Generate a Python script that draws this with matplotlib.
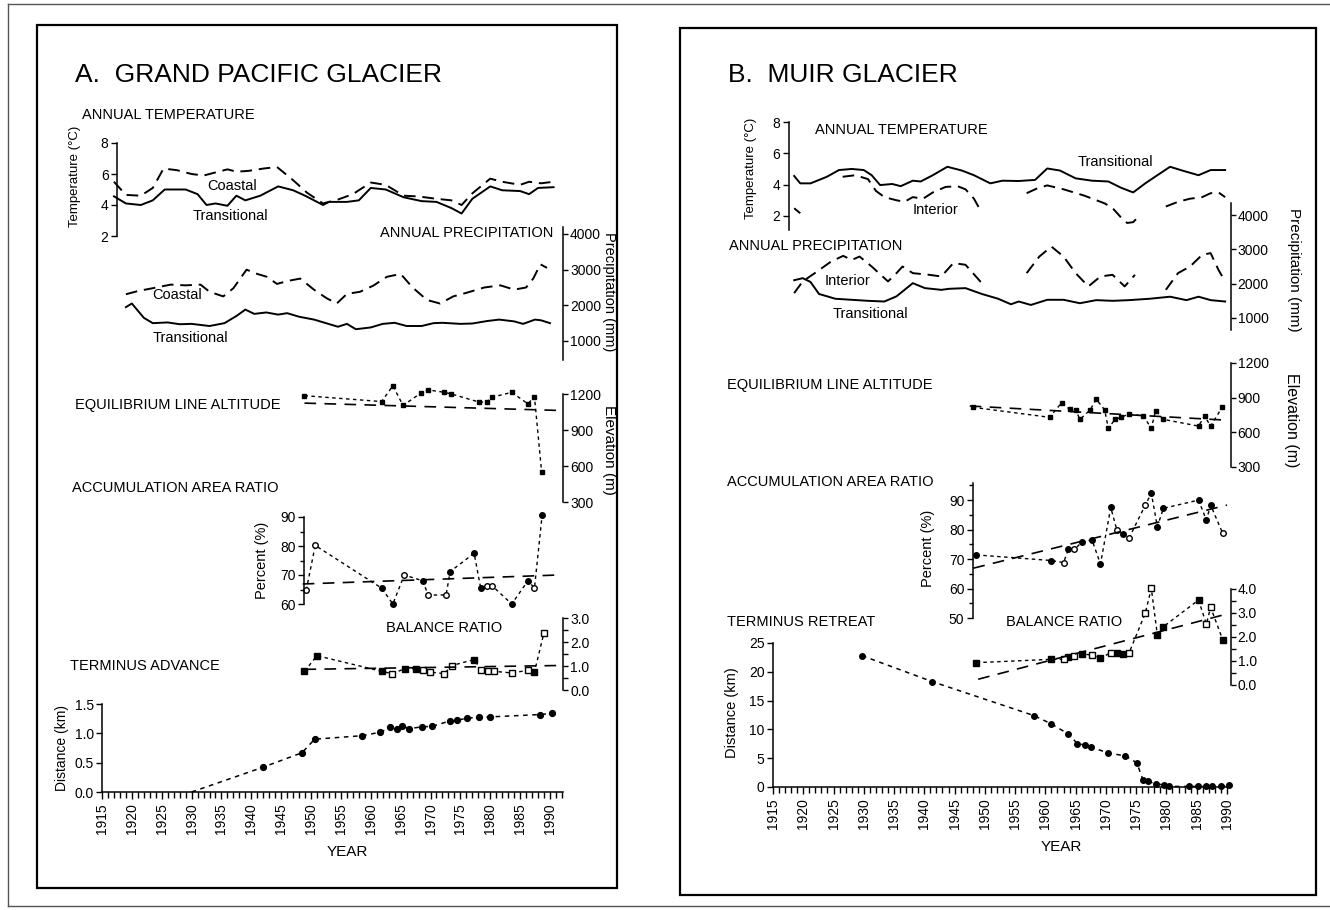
import matplotlib
matplotlib.use("Agg")
import numpy as np
import matplotlib.pyplot as plt
from matplotlib.ticker import MultipleLocator, FormatStrFormatter
from matplotlib.lines import Line2D
from matplotlib.patches import Rectangle

plt.rcParams['font.family'] = ['Liberation Sans', 'DejaVu Sans']

# ---------------- data: A. Grand Pacific Glacier ----------------
a_tt_yr = [1917, 1919, 1921.5, 1923.5, 1925.5, 1929, 1931, 1932.5, 1934, 1936, 1937.5, 1939,
           1941.5, 1944.5, 1947, 1949, 1952, 1953, 1956, 1958, 1960, 1962.5, 1965.5, 1968.5,
           1971, 1973.5, 1975.2, 1977, 1980, 1982, 1985, 1986.5, 1988, 1990.6]
a_tt = [4.56, 4.1, 4.0, 4.3, 5.0, 5.0, 4.7, 4.0, 4.1, 3.95, 4.6, 4.3, 4.6, 5.2, 4.95, 4.6,
        4.0, 4.2, 4.2, 4.3, 5.1, 5.0, 4.5, 4.25, 4.2, 3.8, 3.45, 4.4, 5.2, 4.95, 4.9, 4.7, 5.1, 5.15]
a_tc_yr = [1917, 1919, 1921.5, 1923.5, 1925.3, 1927.5, 1930, 1932, 1934, 1936, 1937.5, 1939.5,
           1942, 1944.3, 1947, 1949.3, 1952, 1954.5, 1957, 1960, 1962.5, 1965.5, 1968, 1971,
           1973.5, 1975.2, 1977, 1980, 1982, 1985, 1986.5, 1988.5, 1990.6]
a_tc = [5.5, 4.65, 4.6, 5.1, 6.35, 6.25, 6.0, 5.9, 6.1, 6.3, 6.15, 6.2, 6.35, 6.45, 5.6, 4.8,
        4.1, 4.35, 4.7, 5.45, 5.3, 4.6, 4.55, 4.4, 4.3, 4.0, 4.75, 5.7, 5.5, 5.3, 5.5, 5.4, 5.5]
a_pt_yr = [1919, 1920, 1922, 1923.5, 1926, 1928, 1930, 1933, 1935.5, 1937.5, 1939, 1940.5,
           1942.5, 1944.5, 1946, 1948, 1950.5, 1952.5, 1954.5, 1956, 1957.5, 1960, 1962, 1964,
           1966, 1968.5, 1970.5, 1972, 1975, 1977, 1979.5, 1981.5, 1984, 1985.5, 1987.5, 1988.5, 1990]
a_pt = [1950, 2050, 1650, 1500, 1520, 1470, 1480, 1420, 1500, 1700, 1880, 1760, 1800, 1740,
        1780, 1680, 1600, 1500, 1400, 1480, 1330, 1380, 1480, 1510, 1420, 1420, 1500, 1510,
        1480, 1490, 1560, 1600, 1550, 1480, 1600, 1580, 1500]
a_pc_yr = [1919, 1921, 1923.5, 1926.5, 1929, 1931.5, 1933, 1935.3, 1937, 1939.2, 1941, 1942.6,
           1944.3, 1946, 1948.2, 1950.4, 1952.6, 1954.3, 1956, 1958.2, 1960.4, 1962.7, 1965,
           1967, 1969.4, 1971.6, 1973.8, 1976, 1979, 1981.7, 1984, 1986, 1987.2, 1988.4, 1989.5]
a_pc = [2310, 2400, 2480, 2580, 2560, 2580, 2380, 2250, 2480, 3000, 2880, 2800, 2600, 2680,
        2750, 2450, 2200, 2050, 2320, 2380, 2550, 2800, 2880, 2500, 2150, 2050, 2250, 2350,
        2500, 2560, 2440, 2500, 2750, 3150, 3050]
a_ela_yr = [1948.9, 1961.8, 1963.7, 1965.4, 1968.4, 1969.5, 1972.3, 1973.5, 1978.2, 1979.4,
            1980.3, 1983.6, 1986.3, 1987.4, 1988.6]
a_ela = [1186, 1137, 1268, 1105, 1208, 1235, 1214, 1200, 1132, 1132, 1173, 1214, 1118, 1178, 551]
a_ela_trend_yr = [1948.9, 1992.2]
a_ela_trend = [1124, 1062]
a_aar_yr = [1949.2, 1950.7, 1961.8, 1963.7, 1965.6, 1968.7, 1969.6, 1972.6, 1973.3, 1977.3,
            1978.4, 1979.4, 1980.3, 1983.6, 1986.3, 1987.4, 1988.7]
a_aar = [64.8, 80.2, 65.5, 60.0, 70.0, 68.0, 63.1, 63.1, 71.2, 77.5, 65.5, 66.3, 66.3, 60.0,
         68.0, 65.5, 90.8]
a_aar_open = [1, 1, 0, 0, 1, 0, 1, 1, 0, 0, 0, 1, 1, 0, 0, 1, 0]
a_aar_trend_yr = [1948.6, 1991.4]
a_aar_trend = [66.9, 70.0]
a_br_yr = [1948.9, 1951.0, 1961.8, 1963.6, 1965.7, 1967.5, 1968.7, 1969.9, 1972.3, 1973.6,
           1977.3, 1978.5, 1979.7, 1980.6, 1983.6, 1986.3, 1987.4, 1989.0]
a_br = [0.78, 1.43, 0.78, 0.68, 0.89, 0.89, 0.82, 0.75, 0.68, 1.02, 1.27, 0.82, 0.78, 0.78,
        0.71, 0.82, 0.75, 2.39]
a_br_open = [0, 0, 0, 1, 0, 0, 1, 1, 1, 1, 0, 1, 1, 1, 1, 1, 0, 1]
a_br_trend_yr = [1948.9, 1991.4]
a_br_trend = [0.86, 1.02]
a_dist_yr = [1930, 1941.9, 1948.5, 1950.6, 1958.6, 1961.6, 1963.3, 1964.4, 1965.3, 1966.4,
             1968.5, 1970.3, 1973.2, 1974.4, 1976.1, 1978.1, 1980, 1988.3, 1990.3]
a_dist = [0.0, 0.42, 0.67, 0.90, 0.96, 1.02, 1.10, 1.07, 1.12, 1.08, 1.11, 1.12, 1.21, 1.22,
          1.26, 1.27, 1.28, 1.32, 1.34]

# ---------------- data: B. Muir Glacier ----------------
b_tt_yr = [1918.5, 1919.5, 1921.2, 1923.9, 1925.9, 1928.0, 1930.0, 1931.3, 1932.7, 1934.7,
           1936.1, 1938.1, 1939.4, 1941.4, 1943.8, 1946.2, 1948.2, 1950.9, 1952.9, 1955.6,
           1958.3, 1960.3, 1962.4, 1965.0, 1967.7, 1970.4, 1972.5, 1974.5, 1976.5, 1978.5,
           1980.6, 1982.6, 1985.3, 1987.3, 1989.7]
b_tt = [4.55, 4.08, 4.08, 4.5, 4.93, 5.0, 4.93, 4.6, 3.97, 4.04, 3.9, 4.25, 4.2, 4.6, 5.14,
        4.9, 4.6, 4.08, 4.25, 4.23, 4.3, 5.03, 4.9, 4.4, 4.25, 4.2, 3.8, 3.5, 4.08, 4.6, 5.14,
        4.9, 4.6, 4.93, 4.93]
# interior record has gaps (None)
b_ti_yr = [1918.5, 1919.5, None,
           1926.5, 1928.6, 1930.7, 1932.0, 1933.4, 1935.4, 1936.7, 1938.1, 1939.8, 1941.4,
           1943.5, 1945.5, 1946.8, 1948.2, 1949.5, None,
           1956.9, 1958.6, 1960.3, 1963.0, 1966.4, 1969.8, 1971.1, 1972.5, 1973.5, 1974.5,
           1975.5, None,
           1979.9, 1981.9, 1983.9, 1985.9, 1987.3, 1988.6, 1989.7]
b_ti = [2.49, 2.17, None,
        4.5, 4.6, 4.35, 3.6, 3.2, 3.0, 2.9, 3.2, 3.1, 3.5, 3.85, 3.9, 3.7, 3.1, 2.2, None,
        3.45, 3.75, 3.95, 3.7, 3.3, 2.8, 2.5, 1.9, 1.55, 1.6, 2.0, None,
        2.6, 2.9, 3.1, 3.2, 3.45, 3.5, 3.2]
b_pt_yr = [1918.5, 1919.9, 1921.2, 1922.6, 1925.3, 1928.0, 1930.7, 1933.4, 1935.4, 1938.1,
           1940.1, 1942.8, 1944.1, 1946.8, 1949.5, 1952.2, 1954.3, 1955.6, 1957.6, 1960.3,
           1963.0, 1965.7, 1968.4, 1971.1, 1973.8, 1977.2, 1980.6, 1983.3, 1985.3, 1987.3, 1989.7]
b_pt = [2100, 2160, 2050, 1700, 1560, 1530, 1500, 1480, 1630, 2015, 1870, 1820, 1850, 1870,
        1700, 1560, 1400, 1480, 1380, 1530, 1530, 1430, 1520, 1500, 1520, 1560, 1620, 1520,
        1620, 1520, 1480]
b_pi_yr = [1918.5, 1919.9, 1921.9, 1924.6, 1926.6, 1928.0, 1929.3, 1931.3, 1934.0, 1935.4,
           1936.4, 1938.1, 1940.8, 1942.8, 1944.8, 1946.8, 1949.5, None,
           1956.9, 1959.0, 1961.0, 1963.0, 1965.0, 1967.1, 1969.1, 1971.1, 1973.1, 1974.8, None,
           1979.9, 1981.9, 1983.9, 1985.9, 1987.3, 1988.6, 1989.7]
b_pi = [1725, 2065, 2306, 2645, 2810, 2690, 2790, 2500, 2065, 2306, 2500, 2306, 2258, 2210,
        2600, 2550, 2015, None,
        2306, 2790, 3080, 2790, 2306, 1920, 2210, 2258, 1920, 2258, None,
        1820, 2306, 2500, 2840, 2890, 2400, 2065]
b_ela_yr = [1948, 1960.7, 1962.7, 1964, 1965, 1965.7, 1967.4, 1968.4, 1969.8, 1970.4, 1971.5,
            1972.5, 1973.8, 1976.2, 1977.5, 1978.2, 1979.5, 1985.3, 1986.3, 1987.3, 1989.2]
b_ela = [817, 730, 857, 799, 794, 712, 794, 886, 794, 634, 712, 730, 759, 741, 634, 788, 712,
         654, 741, 654, 817]
b_ela_trend_yr = [1947.5, 1990]
b_ela_trend = [828, 705]
b_mb_yr = [1948.6, 1961, 1963, 1963.8, 1964.8, 1966.1, 1967.7, 1969.1, 1970.8, 1971.8, 1972.8,
           1973.8, 1976.5, 1977.5, 1978.5, 1979.5, 1985.3, 1986.6, 1987.3, 1989.3]
b_aar = [71.4, 69.5, 68.8, 73.3, 73.3, 75.9, 76.5, 68.3, 87.5, 79.9, 78.5, 77.0, 88.3, 92.3,
         81.0, 87.2, 90.0, 83.2, 88.3, 78.7]
b_aar_open = [0, 0, 1, 0, 1, 0, 0, 0, 0, 1, 0, 1, 1, 0, 0, 0, 0, 0, 0, 1]
b_aar_trend_yr = [1948.1, 1990]
b_aar_trend = [66.9, 88.3]
b_br = [0.93, 1.07, 1.07, 1.18, 1.21, 1.29, 1.25, 1.11, 1.35, 1.35, 1.28, 1.32, 2.99, 4.03,
        2.08, 2.43, 3.54, 2.54, 3.24, 1.88]
b_br_open = [0, 0, 1, 0, 1, 0, 1, 0, 1, 0, 0, 1, 1, 1, 0, 0, 0, 1, 1, 0]
b_br_trend_yr = [1948.9, 1990]
b_br_trend = [0.24, 2.96]
b_dist_yr = [1929.7, 1941.3, 1958.1, 1960.9, 1963.8, 1965.3, 1966.6, 1967.6, 1970.4, 1973.2,
             1975.1, 1976.1, 1977, 1978.3, 1979.6, 1980.5, 1983.7, 1985.2, 1986.5, 1987.5,
             1989, 1990.3]
b_dist = [22.8, 18.3, 12.4, 11.0, 9.2, 7.5, 7.3, 6.9, 5.9, 5.4, 4.2, 1.3, 1.0, 0.5, 0.4, 0.1,
          0.1, 0.1, 0.1, 0.1, 0.1, 0.3]

year_ticks = list(range(1915, 1991, 5))

# ---------------- figure ----------------
W, H = 1330, 910
fig = plt.figure(figsize=(W / 100, H / 100), dpi=100)
fig.patch.set_facecolor('white')


def box(x0, x1, y0, y1):
    return [x0 / W, 1 - y1 / H, (x1 - x0) / W, (y1 - y0) / H]


def new_ax(x0, x1, y0, y1, xlim, ylim, side=None, spine_at=None):
    ax = fig.add_axes(box(x0, x1, y0, y1))
    ax.set_xlim(*xlim)
    ax.set_ylim(*ylim)
    ax.patch.set_alpha(0)
    for s in ax.spines.values():
        s.set_visible(False)
        s.set_linewidth(1.1)
    ax.set_xticks([])
    ax.tick_params(axis='y', direction='out', length=4, width=1, labelsize=10, pad=2)
    ax.tick_params(axis='y', which='minor', direction='out', length=3, width=1)
    if side == 'left':
        ax.spines['left'].set_visible(True)
        if spine_at is not None:
            ax.spines['left'].set_position(('data', spine_at))
        ax.yaxis.set_ticks_position('left')
    elif side == 'right':
        ax.spines['right'].set_visible(True)
        ax.yaxis.tick_right()
        ax.tick_params(axis='y', which='both', length=3.5, pad=1.5)
    else:
        ax.set_yticks([])
    return ax


def txt(x, y, s, size=10.5, ha='left', rot=0):
    fig.text(x / W, 1 - y / H, s, fontsize=size, ha=ha, va='center', rotation=rot,
             rotation_mode='anchor' if rot == 0 else 'default')


def yr_arr(v):
    return np.array([np.nan if a is None else a for a in v], dtype=float)


DASH_T = (0, (6, 3.5))
DASH_D = (0, (2.5, 2.5))
DASH_TR = (0, (7, 5))


def mb_series(ax, yrs, vals, opn, marker):
    ax.plot(yrs, vals, color='black', lw=1.0, ls=DASH_D, clip_on=False)
    yrs = np.array(yrs)
    vals = np.array(vals)
    opn = np.array(opn, dtype=bool)
    ax.plot(yrs[~opn], vals[~opn], ls='none', marker=marker, ms=4, mfc='black',
            mec='black', clip_on=False)
    ax.plot(yrs[opn], vals[opn], ls='none', marker=marker, ms=4, mfc='white',
            mec='black', mew=1, clip_on=False)


def trend(ax, yrs, vals):
    ax.plot(yrs, vals, color='black', lw=1.2, ls=DASH_TR, clip_on=False)


def year_axis(ax):
    ax.spines['bottom'].set_visible(True)
    ax.set_xticks(year_ticks)
    ax.xaxis.set_minor_locator(MultipleLocator(1))
    ax.tick_params(axis='x', which='both', direction='out', length=5, width=1,
                   labelsize=10, labelrotation=90, pad=3)
    ax.tick_params(axis='x', which='minor', length=4)


# ================= Panel A =================
ax_px0 = 102
ppy_a = 5.973
xa = (1915, 1992.2)
xa1 = ax_px0 + (xa[1] - xa[0]) * ppy_a

ax = new_ax(ax_px0, xa1, 143, 236, xa, (2, 8), 'left', 1917.5)
ax.set_yticks([2, 4, 6, 8])
ax.plot(a_tc_yr, a_tc, color='black', lw=1.4, ls=DASH_T)
ax.plot(a_tt_yr, a_tt, color='black', lw=1.4)

ax = new_ax(ax_px0, xa1, 227, 360, xa, (467, 4196), 'right')
ax.set_yticks([1000, 2000, 3000, 4000])
ax.plot(a_pc_yr, a_pc, color='black', lw=1.4, ls=DASH_T)
ax.plot(a_pt_yr, a_pt, color='black', lw=1.4)

ax = new_ax(ax_px0, xa1, 394, 502, xa, (300, 1200), 'right')
ax.set_yticks([300, 600, 900, 1200])
ax.plot(a_ela_yr, a_ela, color='black', lw=1.0, ls=DASH_D, marker='s', ms=3.5, clip_on=False)
trend(ax, a_ela_trend_yr, a_ela_trend)

ax = new_ax(ax_px0, xa1, 517, 604, xa, (60, 90), 'left', 1948.8)
ax.set_yticks([60, 70, 80, 90])
ax.yaxis.set_minor_locator(MultipleLocator(5))
mb_series(ax, a_aar_yr, a_aar, a_aar_open, 'o')
trend(ax, a_aar_trend_yr, a_aar_trend)

ax = new_ax(ax_px0, xa1, 618, 690, xa, (0, 3), 'right')
ax.set_yticks([0, 1, 2, 3])
ax.yaxis.set_minor_locator(MultipleLocator(0.5))
ax.yaxis.set_major_formatter(FormatStrFormatter('%.1f'))
mb_series(ax, a_br_yr, a_br, a_br_open, 's')
trend(ax, a_br_trend_yr, a_br_trend)

ax = new_ax(ax_px0, xa1, 704, 792, xa, (0, 1.5), 'left')
ax.set_yticks([0, 0.5, 1.0, 1.5])
ax.yaxis.set_major_formatter(FormatStrFormatter('%.1f'))
year_axis(ax)
ax.plot(a_dist_yr, a_dist, color='black', lw=1.1, ls=(0, (3, 3)), clip_on=False)
ax.plot(a_dist_yr[1:], a_dist[1:], ls='none', marker='o', ms=4.2, color='black', clip_on=False)

txt(75, 75, 'A.  GRAND PACIFIC GLACIER', size=19)
txt(82, 115, 'ANNUAL TEMPERATURE')
txt(553, 233, 'ANNUAL PRECIPITATION', ha='right')
txt(75, 405, 'EQUILIBRIUM LINE ALTITUDE')
txt(72, 488, 'ACCUMULATION AREA RATIO')
txt(502, 628, 'BALANCE RATIO', ha='right')
txt(70, 666, 'TERMINUS ADVANCE')
txt(232, 186, 'Coastal', ha='center')
txt(230, 216, 'Transitional', ha='center')
txt(177, 295, 'Coastal', ha='center')
txt(190, 338, 'Transitional', ha='center')
txt(75, 176, 'Temperature (°C)', size=9.5, ha='center', rot=90)
txt(609, 292, 'Precipitation (mm)', size=10.5, ha='center', rot=270)
txt(609, 450, 'Elevation (m)', size=11, ha='center', rot=270)
txt(262, 560, 'Percent (%)', size=10.5, ha='center', rot=90)
txt(62, 748, 'Distance (km)', size=10, ha='center', rot=90)
txt(347, 852, 'YEAR', size=11, ha='center')

# ================= Panel B =================
bx_px0 = 773
ppy_b = 6.053
xb = (1915, 1990.6)
xb1 = bx_px0 + (xb[1] - xb[0]) * ppy_b

ax = new_ax(bx_px0, xb1, 122, 230, xb, (1.1, 8), 'left', 1917.6)
ax.set_yticks([2, 4, 6, 8])
ax.plot(yr_arr(b_ti_yr), yr_arr(b_ti), color='black', lw=1.4, ls=DASH_T)
ax.plot(b_tt_yr, b_tt, color='black', lw=1.4)

ax = new_ax(bx_px0, xb1, 203, 330, xb, (650, 4350), 'right')
ax.set_yticks([1000, 2000, 3000, 4000])
ax.plot(yr_arr(b_pi_yr), yr_arr(b_pi), color='black', lw=1.4, ls=DASH_T)
ax.plot(b_pt_yr, b_pt, color='black', lw=1.4)

ax = new_ax(bx_px0, xb1, 363, 467, xb, (300, 1200), 'right')
ax.set_yticks([300, 600, 900, 1200])
ax.plot(b_ela_yr, b_ela, color='black', lw=1.0, ls=DASH_D, marker='s', ms=3.5, clip_on=False)
trend(ax, b_ela_trend_yr, b_ela_trend)

ax = new_ax(bx_px0, xb1, 483, 618, xb, (50, 95.8), 'left', 1948.0)
ax.set_yticks([50, 60, 70, 80, 90])
ax.yaxis.set_minor_locator(MultipleLocator(5))
mb_series(ax, b_mb_yr, b_aar, b_aar_open, 'o')
trend(ax, b_aar_trend_yr, b_aar_trend)

ax = new_ax(bx_px0, xb1, 589, 685, xb, (0, 4), 'right')
ax.set_yticks([0, 1, 2, 3, 4])
ax.yaxis.set_minor_locator(MultipleLocator(0.5))
ax.yaxis.set_major_formatter(FormatStrFormatter('%.1f'))
mb_series(ax, b_mb_yr, b_br, b_br_open, 's')
trend(ax, b_br_trend_yr, b_br_trend)

ax = new_ax(bx_px0, xb1, 643, 787, xb, (0, 25), 'left')
ax.set_yticks([0, 5, 10, 15, 20, 25])
year_axis(ax)
ax.plot(b_dist_yr, b_dist, color='black', lw=1.1, ls=(0, (3, 3)), marker='o', ms=4,
        clip_on=False)

txt(728, 75, 'B.  MUIR GLACIER', size=19)
txt(815, 130, 'ANNUAL TEMPERATURE')
txt(729, 246, 'ANNUAL PRECIPITATION')
txt(727, 385, 'EQUILIBRIUM LINE ALTITUDE')
txt(727, 482, 'ACCUMULATION AREA RATIO')
txt(1006, 622, 'BALANCE RATIO')
txt(727, 622, 'TERMINUS RETREAT')
txt(1115, 162, 'Transitional', ha='center')
txt(935, 210, 'Interior', ha='center')
txt(847, 281, 'Interior', ha='center')
txt(870, 314, 'Transitional', ha='center')
txt(751, 168, 'Temperature (°C)', size=9.5, ha='center', rot=90)
txt(1294, 270, 'Precipitation (mm)', size=11, ha='center', rot=270)
txt(1292, 420, 'Elevation (m)', size=11.5, ha='center', rot=270)
txt(928, 548, 'Percent (%)', size=10.5, ha='center', rot=90)
txt(732, 713, 'Distance (km)', size=10.5, ha='center', rot=90)
txt(1061, 847, 'YEAR', size=11, ha='center')

# ---------------- frames ----------------
def frame(x0, x1, y0, y1, lw, color='black'):
    fig.add_artist(Rectangle((x0 / W, 1 - y1 / H), (x1 - x0) / W, (y1 - y0) / H,
                             fill=False, lw=lw, edgecolor=color,
                             transform=fig.transFigure))

frame(37, 617, 25, 888, 1.6)
frame(680, 1316, 28, 895, 1.6)
for xs, ys in [((8, 1330), (4, 4)), ((8, 8), (4, 906)), ((8, 1330), (906, 906))]:
    fig.add_artist(Line2D([x / W for x in xs], [1 - y / H for y in ys], lw=1,
                          color='#555555', transform=fig.transFigure))

fig.savefig('out.png', dpi=100)
